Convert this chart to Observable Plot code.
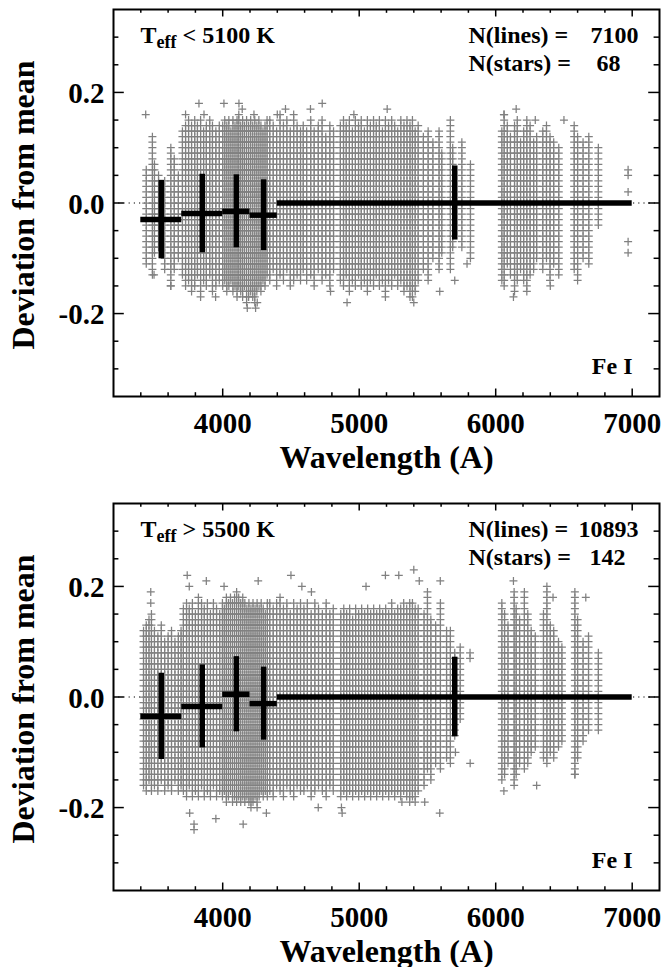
<!DOCTYPE html>
<html><head><meta charset="utf-8">
<script src="https://cdn.jsdelivr.net/npm/d3@7"></script>
<script src="https://cdn.jsdelivr.net/npm/@observablehq/plot@0.6"></script>
<style>
body{margin:0;background:#fff;}
#chart{width:663px;}
#chart svg{display:block;}
#chart svg text{font-family:"Liberation Serif","Times New Roman","DejaVu Serif",serif !important;font-weight:bold;}
</style></head><body><div id="chart"></div>
<script>
// ---------- axis ticks ----------
const xMajor = [4000, 5000, 6000, 7000];
const xMajorLabels = ["4000", "5000", "6000", "7000"];
const xMinor = [3400, 3600, 3800, 4200, 4400, 4600, 4800, 5200, 5400, 5600, 5800, 6200, 6400, 6600, 6800];
const yMajor = [-0.2, 0, 0.2];
const yMajorLabels = ["-0.2", "0.0", "0.2"];
const yMinor = [-0.3, -0.25, -0.15, -0.1, -0.05, 0.05, 0.1, 0.15, 0.25, 0.3];

// ---------- wavelength bins of the error-bar crosses ----------
const binLo  = [3400, 3700, 4000, 4200, 4400];
const binHi  = [3700, 4000, 4200, 4400, 7000];
const binMid = [3550, 3850, 4100, 4300, 5700];

// ---------- panel 1: Teff < 5100 K ----------
const coolMean = [-0.030, -0.019, -0.015, -0.022, 0.000];
const coolSd   = [0.071, 0.071, 0.066, 0.064, 0.067];
// line wavelengths and the min / max deviation (in 0.01 steps) of each column of points
const coolLineWl = [3440,3485,3500,3530,3575,3620,3645,3675,
 3705,3728,3750,3772,3795,3815,3838,3860,3880,3905,3925,3950,3975,
 4000,4015,4030,4045,4060,4075,4090,4105,4118,4132,4146,4160,4175,4190,4205,4220,4235,4250,4265,4280,4295,4310,4325,
 4345,4370,4395,4420,4445,4470,4495,4520,4545,4570,
 4590,4615,4645,4670,4700,4728,4755,4785,4812,
 4862,4885,4905,4928,4950,4972,4995,5015,5038,5060,5082,5105,5125,5148,5170,5192,5215,5238,5260,5282,5305,5328,5350,5372,5390,5410,5432,
 5470,5505,5540,5585,5605,5668,5685,5752,5815,
 6045,6062,6085,6108,6138,6158,6182,6205,6228,6252,6278,6300,
 6345,6372,6398,6425,6462,
 6575,6600,6640,6682,6752];
const coolLineLo = [-11,-13,-9,-8,-12,-15,-12,-10,
 -13,-15,-14,-16,-15,-13,-16,-14,-15,-13,-16,-15,-14,
 -15,-14,-16,-15,-14,-16,-15,-17,-15,-16,-17,-15,-18,-17,-16,-17,-18,-16,-15,-16,-14,-15,-13,
 -14,-12,-15,-13,-14,-12,-15,-14,-13,-14,
 -12,-14,-13,-15,-12,-14,-13,-15,-12,
 -14,-15,-13,-16,-14,-15,-13,-15,-14,-16,-14,-15,-13,-15,-14,-16,-14,-15,-13,-15,-14,-16,-15,-17,-17,-16,-14,
 -12,-14,-10,-12,-9,-12,-8,-8,-10,
 -14,-15,-11,-13,-16,-14,-12,-14,-16,-13,-12,-10,
 -12,-10,-14,-11,-13,
 -12,-14,-10,-11,-4];
const coolLineHi = [6,12,7,5,4,10,8,5,
 13,14,15,14,15,14,15,13,14,15,14,13,14,
 14,15,14,15,13,15,14,15,16,14,15,14,15,14,15,14,15,14,15,14,13,14,15,
 15,14,13,16,14,15,13,16,14,13,
 14,13,15,13,14,15,12,14,13,
 14,15,14,15,13,15,14,15,13,15,14,15,14,15,13,15,14,15,14,13,15,14,15,14,15,13,14,
 12,13,11,13,9,15,10,11,7,
 13,16,14,12,14,15,11,13,15,14,11,12,
 13,14,12,11,10,
 14,12,11,12,10];
const coolOutWl  = [3436,3497,3619,3728,3826,3863,4009,4119,4143,4229,4400,4460,4643,4729,4961,5205,3838,3948,4180,4241,4253,4790,4911,5192,5400,5590,5700,5790,6060,6130,6150,6290,6400,6500,6970,6970,6970,6970,6970];
const coolOutDev = [16,-13,-15,16,18,16,18,18,17,16,16,17,17,18,16,17,-17,-17,-19,-19,-18,-16,-18,-17,-18,-16,-14,-11,16,-17,17,15,-15,15,6,5,2,-7,-9];

// ---------- panel 2: Teff > 5500 K ----------
const hotMean = [-0.035, -0.017, 0.005, -0.012, 0.000];
const hotSd   = [0.078, 0.075, 0.068, 0.066, 0.072];
const hotLineWl = [3420,3440,3460,3478,3500,3525,3550,3575,3600,3625,3650,3675,3695,
 3712,3735,3755,3778,3800,3822,3845,3865,3888,3910,3932,3955,3978,
 3998,4012,4027,4042,4057,4072,4087,4102,4117,4132,4147,4162,4177,4192,4207,4222,4237,4252,4267,4282,4297,4312,4327,
 4345,4370,4395,4420,4445,4470,4495,4520,4545,4570,
 4595,4620,4648,4675,4702,4730,4758,4785,4810,
 4865,4887,4908,4930,4952,4974,4996,5018,5040,5062,5084,5106,5128,5150,5172,5194,5216,5238,5260,5282,5304,5326,5348,5370,5390,5410,5432,
 5475,5500,5525,5560,5595,5640,5668,5700,5740,5812,
 6045,6065,6090,6135,6150,6175,6210,6235,6260,6290,
 6350,6375,6400,6425,6460,6485,
 6580,6600,6640,6680,6752];
const hotLineLo = [-16,-17,-15,-17,-16,-17,-15,-17,-16,-17,-15,-17,-16,
 -17,-18,-16,-18,-17,-18,-16,-18,-17,-18,-16,-18,-17,
 -18,-17,-19,-18,-17,-19,-18,-19,-18,-19,-18,-19,-18,-19,-20,-19,-18,-20,-18,-17,-18,-17,-18,
 -17,-18,-16,-17,-18,-16,-17,-18,-16,-17,
 -17,-16,-18,-17,-16,-17,-18,-16,-17,
 -18,-17,-18,-17,-18,-17,-18,-17,-18,-17,-18,-17,-18,-17,-18,-17,-18,-17,-18,-17,-18,-17,-18,-19,-18,-19,-17,
 -16,-13,-15,-12,-13,-11,-12,-7,-4,7,
 -15,-14,-12,-16,-14,-12,-13,-12,-10,-9,
 -11,-12,-10,-11,-9,-8,
 -14,-11,-8,-6,-6];
const hotLineHi = [12,13,14,15,12,11,13,10,11,12,10,11,12,
 16,17,16,17,15,18,17,16,17,15,17,16,15,
 17,16,18,17,18,17,18,19,18,17,18,17,16,17,16,17,16,17,16,17,16,15,17,
 17,16,17,18,16,17,15,17,16,17,
 16,17,15,17,16,15,17,15,16,
 15,16,15,16,14,16,15,16,15,16,15,16,15,16,15,16,15,17,15,16,16,17,16,17,17,16,16,
 15,19,14,13,17,12,12,8,9,8,
 17,15,13,19,16,14,19,15,12,11,
 15,20,13,12,10,9,
 19,14,10,11,8];
const hotOutWl  = [3473,3473,3740,3755,3758,3790,3790,3880,3950,4010,4150,4260,4320,4500,4580,4650,4700,4870,4875,5050,5192,5290,5313,5400,5440,5480,5594,5590,5705,5813,6060,6130,6300,6420,6580,6660];
const hotOutDev = [19,17,22,20,-21,-23,-24,21,-22,20,-23,21,-21,22,20,19,-20,-20,-21,20,22,22,-19,23,21,-19,21,-21,-10,-12,-17,21,-16,18,-14,18];

// ---------- text ----------
const yTitle = "Deviation from mean";
const xTitle = "Wavelength (A)";
const coolTemp = "< 5100 K", hotTemp = "> 5500 K";
const coolNLines = "7100", coolNStars = "68";
const hotNLines = "10893", hotNStars = "142";
const ionLabel = "Fe I";

// ---------- drawing ----------
const W = 663, mL = 113, mR = 4, mT = 9, frameH = 387;
const yPx = 0.7 / frameH, xPx = 4000 / (W - mL - mR);
const FONT = "Liberation Serif, serif";
const plus = {draw(ctx, size) { const r = Math.sqrt(size / Math.PI); ctx.moveTo(-r, 0); ctx.lineTo(r, 0); ctx.moveTo(0, -r); ctx.lineTo(0, r); }};

function expand(wl, lo, hi, ow, od) {
  const pts = [];
  wl.forEach((w, i) => { for (let v = lo[i]; v <= hi[i]; v++) pts.push({wl: w, dev: v / 100}); });
  ow.forEach((w, i) => pts.push({wl: w, dev: od[i] / 100}));
  return pts;
}
const txt = (s, o) => Plot.text([s], {text: d => d, fontFamily: FONT, fontWeight: "bold", fill: "#000", ...o});

function panel(p) {
  const pts = expand(p.wl, p.lo, p.hi, p.ow, p.od);
  const idx = binLo.map((d, i) => i);
  const ax = 0.35, ay = 3200, bx = 7200;
  return Plot.plot({
    width: W, height: p.height, marginLeft: mL, marginRight: mR, marginTop: mT, marginBottom: p.height - mT - frameH,
    style: {background: "#fff"},
    x: {domain: [3200, 7200], axis: null},
    y: {domain: [-0.35, 0.35], axis: null},
    marks: [
      Plot.ruleY([0], {y: d => d, stroke: "#000", strokeWidth: 1.2, strokeDasharray: "1.2,4"}),
      Plot.dot(pts, {x: "wl", y: "dev", symbol: plus, r: 4, stroke: "#808080", strokeWidth: 1.25, fill: "none"}),
      Plot.ruleY(idx, {y: i => p.mean[i], x1: i => binLo[i], x2: i => binHi[i], stroke: "#000", strokeWidth: 5.5}),
      Plot.ruleX(idx, {x: i => binMid[i], y1: i => p.mean[i] - p.sd[i], y2: i => p.mean[i] + p.sd[i], stroke: "#000", strokeWidth: 5.5}),
      // ticks, inward on all four sides
      Plot.ruleX(xMajor, {x: d => d, y1: -ax, y2: -ax + 7.5 * yPx, stroke: "#000", strokeWidth: 1.5}),
      Plot.ruleX(xMajor, {x: d => d, y1: ax, y2: ax - 7.5 * yPx, stroke: "#000", strokeWidth: 1.5}),
      Plot.ruleX(xMinor, {x: d => d, y1: -ax, y2: -ax + 3.8 * yPx, stroke: "#000", strokeWidth: 1.5}),
      Plot.ruleX(xMinor, {x: d => d, y1: ax, y2: ax - 3.8 * yPx, stroke: "#000", strokeWidth: 1.5}),
      Plot.ruleY(yMajor, {y: d => d, x1: ay, x2: ay + 10.8 * xPx, stroke: "#000", strokeWidth: 1.5}),
      Plot.ruleY(yMajor, {y: d => d, x1: bx, x2: bx - 10.8 * xPx, stroke: "#000", strokeWidth: 1.5}),
      Plot.ruleY(yMinor, {y: d => d, x1: ay, x2: ay + 5.4 * xPx, stroke: "#000", strokeWidth: 1.5}),
      Plot.ruleY(yMinor, {y: d => d, x1: bx, x2: bx - 5.4 * xPx, stroke: "#000", strokeWidth: 1.5}),
      Plot.frame({stroke: "#000", strokeWidth: 2}),
      // tick labels
      Plot.text(xMajor, {x: d => d, text: (d, i) => xMajorLabels[i], frameAnchor: "bottom", dy: 27, lineAnchor: "middle", fontSize: 29, fontWeight: "bold", fontFamily: FONT, fill: "#000"}),
      Plot.text(yMajor, {y: d => d, text: (d, i) => yMajorLabels[i], frameAnchor: "left", dx: -9, dy: 1.5, textAnchor: "end", lineAnchor: "middle", fontSize: 29, fontWeight: "bold", fontFamily: FONT, fill: "#000"}),
      // axis titles
      txt(yTitle, {frameAnchor: "left", dx: -80, dy: 2, rotate: -90, textAnchor: "middle", lineAnchor: "bottom", fontSize: 32}),
      txt(xTitle, {frameAnchor: "bottom", dy: 71, textAnchor: "middle", lineAnchor: "bottom", fontSize: 32}),
      // annotations
      txt("T", {frameAnchor: "top-left", dx: 27, dy: 33, textAnchor: "start", lineAnchor: "bottom", fontSize: 24}),
      txt("eff", {frameAnchor: "top-left", dx: 43, dy: 38, textAnchor: "start", lineAnchor: "bottom", fontSize: 18}),
      txt(p.temp, {frameAnchor: "top-left", dx: 69, dy: 33, textAnchor: "start", lineAnchor: "bottom", fontSize: 24}),
      txt("N(lines) =", {frameAnchor: "top-left", dx: 355, dy: 33, textAnchor: "start", lineAnchor: "bottom", fontSize: 24}),
      txt(p.nLines, {frameAnchor: "top-left", dx: p.linesEnd - mL, dy: 33, textAnchor: "end", lineAnchor: "bottom", fontSize: 24}),
      txt("N(stars) =", {frameAnchor: "top-left", dx: 355, dy: 61, textAnchor: "start", lineAnchor: "bottom", fontSize: 24}),
      txt(p.nStars, {frameAnchor: "top-left", dx: p.starsEnd - mL, dy: 61, textAnchor: "end", lineAnchor: "bottom", fontSize: 24}),
      txt(ionLabel, {frameAnchor: "top-left", dx: 632 - mL, dy: 364, textAnchor: "end", lineAnchor: "bottom", fontSize: 24})
    ]
  });
}

const chart = document.getElementById("chart");
chart.appendChild(panel({height: 494, wl: coolLineWl, lo: coolLineLo, hi: coolLineHi, ow: coolOutWl, od: coolOutDev,
  mean: coolMean, sd: coolSd, temp: coolTemp, nLines: coolNLines, nStars: coolNStars, linesEnd: 638, starsEnd: 620}));
chart.appendChild(panel({height: 473, wl: hotLineWl, lo: hotLineLo, hi: hotLineHi, ow: hotOutWl, od: hotOutDev,
  mean: hotMean, sd: hotSd, temp: hotTemp, nLines: hotNLines, nStars: hotNStars, linesEnd: 638, starsEnd: 625}));
</script></body></html>
